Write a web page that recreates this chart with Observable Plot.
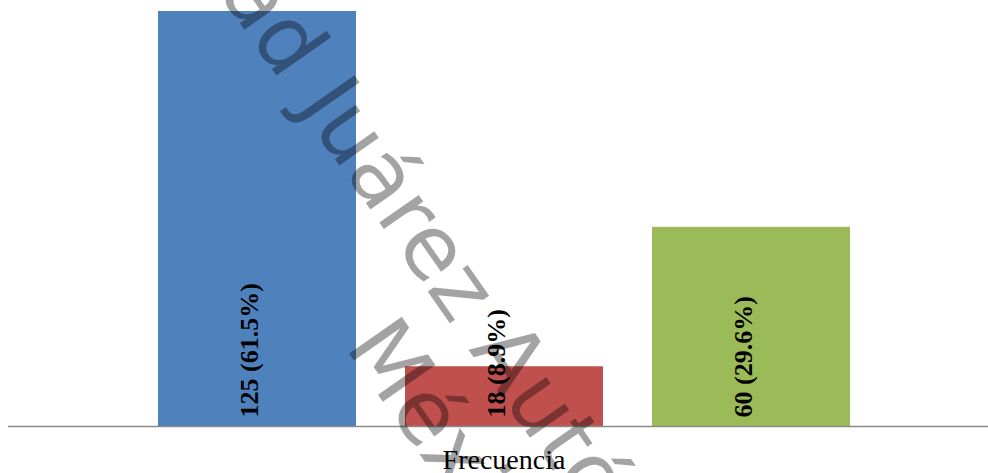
<!DOCTYPE html>
<html>
<head>
<meta charset="utf-8">
<script src="https://cdn.jsdelivr.net/npm/d3@7"></script>
<script src="https://cdn.jsdelivr.net/npm/@observablehq/plot@0.6"></script>
<style>
  html, body { margin: 0; padding: 0; background: #fff; }
</style>
</head>
<body>
<div id="chart"></div>
<script>
// ---- data ----
const categories = ["Serie 1", "Serie 2", "Serie 3"];
const values = [125, 18, 60];
const percents = ["61.5", "8.9", "29.6"];
const colors = ["#4f81bd", "#c0504d", "#9bbb59"];
const axisLabel = "Frecuencia";
const watermarkLine1 = "Universidad Juárez Autónoma de Tabasco";
const watermarkLine2 = "México";

const data = categories.map((c, i) => ({
  cat: c,
  value: values[i],
  label: `${values[i]} (${percents[i]}%)`
}));

const chart = Plot.plot({
  width: 988,
  height: 473,
  marginTop: 11,
  marginBottom: 47,
  marginLeft: 133,
  marginRight: 114,
  style: { background: "#fff", overflow: "hidden" },
  x: { domain: categories, paddingInner: 0.2, paddingOuter: 0.1, axis: null },
  y: { domain: [0, d3.max(values)], axis: null },
  color: { domain: categories, range: colors },
  marks: [
    Plot.barY(data, { x: "cat", y: "value", fill: "cat" }),
    Plot.ruleY([0], { stroke: "#8a8a8a", strokeWidth: 1.6, insetLeft: -125, insetRight: -114 }),
    Plot.text(data, {
      x: "cat", y: 0, text: "label", rotate: -90,
      textAnchor: "start", lineAnchor: "bottom", dy: -9,
      fontFamily: "Liberation Serif", fontWeight: "bold", fontSize: 26, fill: "#000"
    }),
    Plot.text([axisLabel], {
      frameAnchor: "bottom", dy: 42, lineAnchor: "bottom",
      fontFamily: "Liberation Serif", fontSize: 28, fill: "#000"
    })
  ]
});
document.getElementById("chart").appendChild(chart);

// ---- watermark overlay ----
(function () {
  const svg = d3.select(chart);
  const th = 55;
  const anchor = [281, 82]; // end of the first word on the baseline
  const g = svg.append("g")
    .attr("fill", "#000").attr("fill-opacity", 0.36)
    .attr("text-anchor", "start")
    .style("font-family", "DejaVu Sans").style("font-size", "88px");
  const tmp = g.append("text").attr("text-anchor", "start").text(watermarkLine1.split(" ")[0]);
  const wU = tmp.node().getComputedTextLength();
  tmp.remove();
  g.append("text").attr("text-anchor", "start").attr("x", -wU).attr("y", 0).text(watermarkLine1);
  g.append("text").attr("text-anchor", "start").attr("x", 253).attr("y", 100).text(watermarkLine2);
  g.attr("transform", `translate(${anchor[0]},${anchor[1]}) rotate(${th})`);
})();
</script>
</body>
</html>
